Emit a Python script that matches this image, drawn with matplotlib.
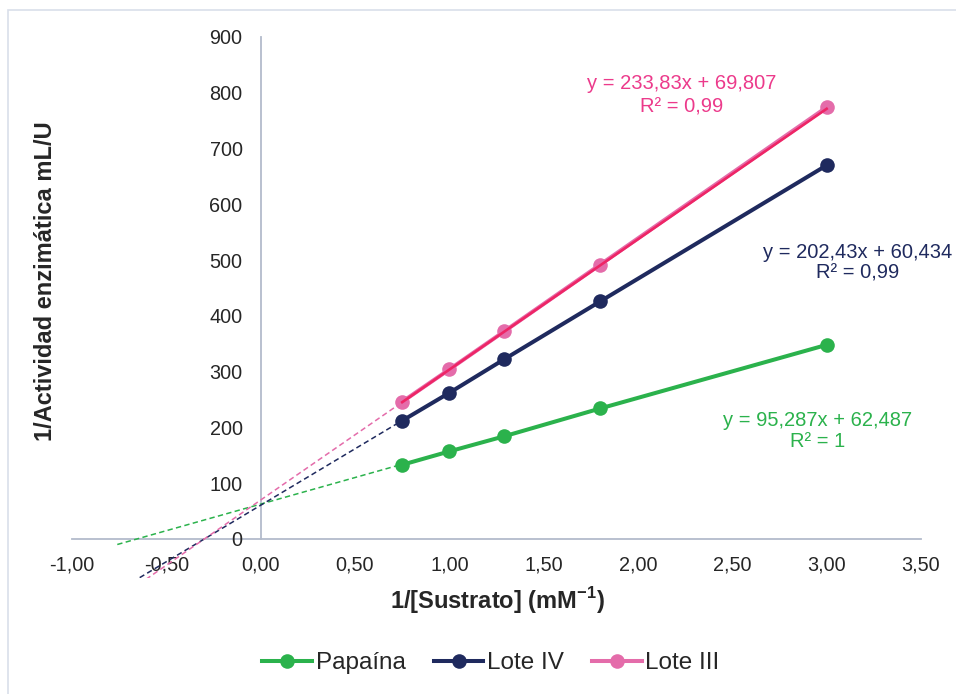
import numpy as np
import matplotlib
matplotlib.use("Agg")
import matplotlib.pyplot as plt
from matplotlib.patches import Rectangle
from matplotlib.ticker import FuncFormatter, MultipleLocator

plt.rcParams['font.family'] = ['Liberation Sans', 'DejaVu Sans']
plt.rcParams['mathtext.fontset'] = 'custom'
plt.rcParams['mathtext.rm'] = 'Liberation Sans'
plt.rcParams['mathtext.bf'] = 'Liberation Sans:bold'

# Lineweaver-Burk data: 1/[S] (mM^-1) vs 1/activity (mL/U)
inv_substrate = [0.75, 1.0, 1.29, 1.8, 3.0]
papaina = [133, 157, 184, 234, 348]
lote_iv = [212, 262, 322, 426, 670]
lote_iii = [246, 304, 372, 492, 774]

series_names = ["Papaína", "Lote IV", "Lote III"]
slopes = [95.287, 202.43, 233.83]
intercepts = [62.487, 60.434, 69.807]
r2_labels = ["1", "0,99", "0,99"]

green = "#2BB24C"
navy = "#1F2A5E"
pink = "#E46CAA"
pink_line = "#EE2566"
axis_gray = "#B3BBCB"


def comma(v, nd):
    return f"{v:.{nd}f}".replace(".", ",")


def eq_text(m, b):
    def fmt(v):
        return f"{v:.5g}".replace(".", ",")
    return f"y = {fmt(m)}x + {fmt(b)}"


fig = plt.figure(figsize=(9.56, 6.94), dpi=100)
fig.patches.append(Rectangle((8 / 956, -0.05), 1.1, 1 - 10 / 694 + 0.05,
                             transform=fig.transFigure, fill=False,
                             edgecolor="#D9DFEA", linewidth=1.2))

ax = fig.add_axes([72 / 956, 1 - 578 / 694, 849 / 956, (578 - 37) / 694])
ax.set_xlim(-1.0, 3.5)
ax.set_ylim(-70, 900)

# Spines cross at the origin
for s in ["top", "right"]:
    ax.spines[s].set_visible(False)
ax.spines["left"].set_position(("data", 0))
ax.spines["bottom"].set_position(("data", 0))
ax.spines["left"].set_bounds(0, 900)
for s in ["left", "bottom"]:
    ax.spines[s].set_color(axis_gray)
    ax.spines[s].set_linewidth(1.3)
    ax.spines[s].set_zorder(1)

ax.xaxis.set_major_locator(MultipleLocator(0.5))
ax.set_yticks(np.arange(0, 901, 100))
ax.xaxis.set_major_formatter(FuncFormatter(lambda v, p: comma(v, 2)))
ax.yaxis.set_major_formatter(FuncFormatter(lambda v, p: f"{int(round(v))}"))
ax.tick_params(axis="both", length=0, labelsize=14.3, labelcolor="#262626")
ax.tick_params(axis="x", pad=12)
ax.tick_params(axis="y", pad=13)

# Trendlines with backward forecast
xs = np.array([-0.76, inv_substrate[0]])
trend_colors = [green, navy, pink]
for m, b, c in zip(slopes, intercepts, trend_colors):
    ax.plot(xs, m * xs + b, color=c, lw=1.1, ls=(0, (3.5, 2.2)), zorder=2)

data = [papaina, lote_iv, lote_iii]
colors = [green, navy, pink]
handles = []
for name, ys, c in zip(series_names, data, colors):
    h, = ax.plot(inv_substrate, ys, color=c, lw=2.9, marker="o", ms=10.5,
                 markeredgewidth=0, label=name, zorder=3)
    handles.append(h)

# Solid trendline over Lote III
xt = np.array([inv_substrate[0], inv_substrate[-1]])
ax.plot(xt, slopes[2] * xt + intercepts[2], color=pink_line, lw=1.9, zorder=4)

# Trendline equations
tcolors = ["#2BB24C", "#1F2A5E", "#EC3A8B"]
eq_pos = [(2.953, 213, 174),
          (3.165, 513, 477),
          (2.232, 816, 775)]
for m, b, r2, c, (xp, y1, y2) in zip(slopes, intercepts, r2_labels, tcolors, eq_pos):
    ax.text(xp, y1, eq_text(m, b), color=c, fontsize=14.5,
            ha="center", va="center")
    ax.text(xp, y2, f"R² = {r2}", color=c, fontsize=14.5,
            ha="center", va="center")

fig.text(497 / 956, 1 - 601 / 694, r"1/[Sustrato] (mM$^{\mathbf{-1}}$)",
         fontsize=17, fontweight="bold", ha="center", va="center",
         color="#262626")
fig.text(46 / 956, 1 - 281 / 694, "1/Actividad enzimática mL/U",
         fontsize=17, fontweight="bold", ha="center", va="center",
         rotation=90, color="#262626")

fig.legend(handles=handles, loc="center", bbox_to_anchor=(491 / 956, 1 - 663 / 694),
           ncol=3, frameon=False, fontsize=17.5, handlelength=2.05,
           handletextpad=0.15, columnspacing=1.15, labelcolor="#262626")

fig.savefig("out.png", dpi=100, facecolor="white")
